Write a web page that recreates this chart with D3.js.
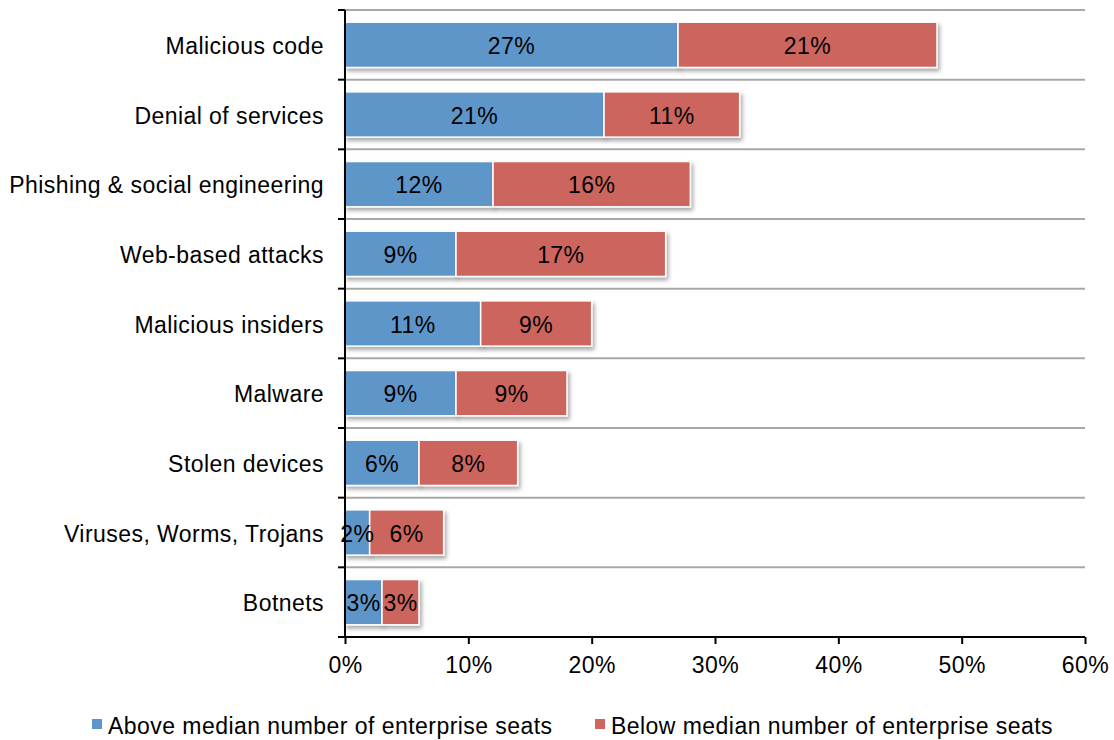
<!DOCTYPE html>
<html>
<head>
<meta charset="utf-8">
<script src="https://cdn.jsdelivr.net/npm/d3@7"></script>
<style>
  html, body { margin: 0; padding: 0; background: #fff; }
  svg { display: block; font-family: "Liberation Sans", Arial, sans-serif; }
  svg text { letter-spacing: 0.45px; }
</style>
</head>
<body>
<svg id="chart" width="1114" height="740"></svg>
<script>
// Security threats by enterprise size (share of respondents)
const categories = [
  "Malicious code",
  "Denial of services",
  "Phishing & social engineering",
  "Web-based attacks",
  "Malicious insiders",
  "Malware",
  "Stolen devices",
  "Viruses, Worms, Trojans",
  "Botnets"
];
const aboveMedian = [27, 21, 12, 9, 11, 9, 6, 2, 3];
const belowMedian = [21, 11, 16, 17, 9, 9, 8, 6, 3];
const seriesNames = [
  "Above median number of enterprise seats",
  "Below median number of enterprise seats"
];
const seriesColors = ["#5f96ca", "#cd655e"];
const xTicks = [0, 10, 20, 30, 40, 50, 60];

const FONT = 23;
const svg = d3.select("#chart");
const margin = { left: 345, right: 29, top: 10, bottom: 103 };
const W = 1114, H = 740;
const plotW = W - margin.left - margin.right;
const plotH = H - margin.top - margin.bottom;

const defs = svg.append("defs");
const shadow = defs.append("filter").attr("id", "shadow")
  .attr("x", "-10%").attr("y", "-20%").attr("width", "130%").attr("height", "160%");
shadow.append("feDropShadow")
  .attr("dx", 2).attr("dy", 3).attr("stdDeviation", 2)
  .attr("flood-color", "#000").attr("flood-opacity", 0.35);

const x = d3.scaleLinear().domain([0, 60]).range([0, plotW]);
const y = d3.scaleBand().domain(categories).range([0, plotH]).paddingInner(0.35).paddingOuter(0.175);

const g = svg.append("g").attr("transform", `translate(${margin.left},${margin.top})`);

// horizontal separators between categories
const step = plotH / categories.length;
const bounds = d3.range(categories.length).map(i => i * step);
g.append("g").selectAll("line").data(bounds).join("line")
  .attr("x1", 0).attr("x2", plotW)
  .attr("y1", d => d).attr("y2", d => d)
  .attr("stroke", "#a8a8a8").attr("stroke-width", 2);

// stacked bars
const rows = categories.map((c, i) => ({ cat: c, vals: [aboveMedian[i], belowMedian[i]] }));
const segs = [];
rows.forEach(r => {
  let acc = 0;
  r.vals.forEach((v, k) => { segs.push({ cat: r.cat, k, v, x0: acc, x1: acc + v }); acc += v; });
});

const barG = g.append("g");
barG.selectAll("rect").data(segs).join("rect")
  .attr("x", d => x(d.x0))
  .attr("y", d => y(d.cat))
  .attr("width", d => x(d.x1) - x(d.x0))
  .attr("height", y.bandwidth())
  .attr("fill", d => seriesColors[d.k])
  .attr("stroke", "#fff").attr("stroke-width", 1.5)
  .attr("filter", "url(#shadow)");

barG.selectAll("text").data(segs).join("text")
  .attr("x", d => (x(d.x0) + x(d.x1)) / 2)
  .attr("y", d => y(d.cat) + y.bandwidth() / 2)
  .attr("dy", "0.4em")
  .attr("text-anchor", "middle")
  .attr("font-size", FONT)
  .attr("fill", "#000")
  .text(d => d.v + "%");

// y axis with ticks at category boundaries
const yAxisG = g.append("g");
yAxisG.append("line").attr("x1", 0).attr("x2", 0).attr("y1", 0).attr("y2", plotH)
  .attr("stroke", "#000").attr("stroke-width", 2);
yAxisG.selectAll("line.tick").data(bounds.concat([plotH])).join("line")
  .attr("class", "tick")
  .attr("x1", -7).attr("x2", 0)
  .attr("y1", d => d).attr("y2", d => d)
  .attr("stroke", "#000").attr("stroke-width", 2);
yAxisG.selectAll("text").data(categories).join("text")
  .attr("x", -21)
  .attr("y", d => y(d) + y.bandwidth() / 2)
  .attr("dy", "0.4em")
  .attr("text-anchor", "end")
  .attr("font-size", FONT)
  .attr("fill", "#000")
  .text(d => d);

// x axis
const xAxis = d3.axisBottom(x).tickValues(xTicks).tickFormat(d => d + "%").tickSize(7).tickPadding(13);
const xAxisG = g.append("g").attr("transform", `translate(0,${plotH})`).call(xAxis);
xAxisG.select(".domain").attr("stroke", "#000").attr("stroke-width", 2).attr("d", `M0,0H${plotW}`);
xAxisG.selectAll(".tick line").attr("stroke", "#000").attr("stroke-width", 2);
xAxisG.selectAll(".tick text").attr("font-size", FONT).attr("fill", "#000")
  .attr("font-family", "Liberation Sans, Arial, sans-serif");

// legend
const legend = svg.append("g").attr("transform", "translate(0,725)");
const legendX = [92, 595];
seriesNames.forEach((name, k) => {
  const lg = legend.append("g").attr("transform", `translate(${legendX[k]},0)`);
  lg.append("rect").attr("x", 0).attr("y", -6).attr("width", 10).attr("height", 10)
    .attr("fill", seriesColors[k]);
  lg.append("text").attr("x", 16).attr("y", 0).attr("dy", "0.4em")
    .attr("font-size", FONT).attr("fill", "#000").text(name);
});
</script>
</body>
</html>
